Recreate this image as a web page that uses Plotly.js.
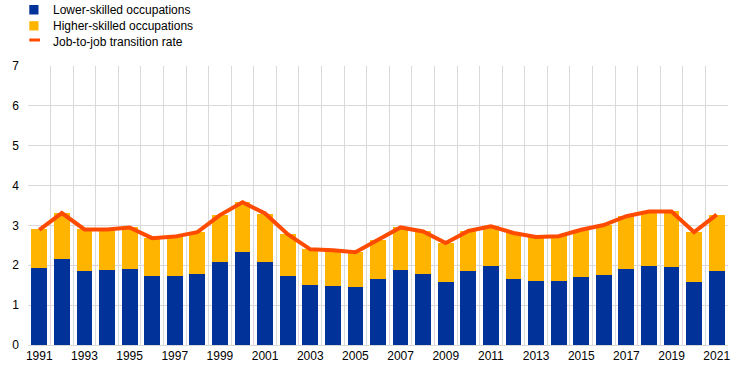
<!DOCTYPE html>
<html>
<head>
<meta charset="utf-8">
<script src="https://cdn.plot.ly/plotly-3.0.1.min.js"></script>
<style>html,body{margin:0;padding:0;background:#fff}#chart{width:744px;height:373px}</style>
</head>
<body>
<div id="chart"></div>
<script>
var years = ['1991','1992','1993','1994','1995','1996','1997','1998','1999','2000',
             '2001','2002','2003','2004','2005','2006','2007','2008','2009','2010',
             '2011','2012','2013','2014','2015','2016','2017','2018','2019','2020','2021'];
var lowerSkilled = [1.93,2.15,1.86,1.88,1.90,1.73,1.73,1.78,2.08,2.33,
                    2.08,1.73,1.50,1.48,1.45,1.65,1.88,1.78,1.58,1.85,
                    1.98,1.65,1.60,1.60,1.70,1.75,1.90,1.98,1.95,1.58,1.85];
var higherSkilled = [0.97,1.15,1.04,1.02,1.05,0.95,0.98,1.05,1.18,1.25,
                     1.21,1.05,0.90,0.90,0.88,0.98,1.07,1.07,0.98,1.01,
                     1.00,1.16,1.11,1.13,1.19,1.27,1.33,1.37,1.40,1.25,1.41];
var jobToJob = [2.89,3.31,2.90,2.90,2.95,2.68,2.72,2.83,3.26,3.58,
                3.30,2.78,2.40,2.38,2.33,2.63,2.95,2.85,2.56,2.86,
                2.98,2.81,2.71,2.73,2.89,3.01,3.23,3.35,3.35,2.83,3.27];
var tickLabels = years.map(function(y, i){ return i % 2 === 0 ? y : ''; });
var seriesNames = ['Lower-skilled occupations','Higher-skilled occupations','Job-to-job transition rate'];
var seriesColors = ['#003299','#FFB400','#FF4B00'];

var traces = [
  {type:'bar', name:seriesNames[0], x:years, y:lowerSkilled, marker:{color:seriesColors[0]}},
  {type:'bar', name:seriesNames[1], x:years, y:higherSkilled, marker:{color:seriesColors[1]}},
  {type:'scatter', mode:'lines', name:seriesNames[2], x:years, y:jobToJob,
   line:{color:seriesColors[2], width:4}}
];

// Custom legend (pixel positions converted to paper coordinates)
var W = 744, H = 373, mL = 28, mR = 16, mT = 66, mB = 28;
var pw = W - mL - mR, ph = H - mT - mB;
function px(x){ return (x - mL) / pw; }
function py(y){ return (H - mB - y) / ph; }
var legRows = [9.7, 25.7, 42];
var shapes = [
  {type:'rect', xref:'paper', yref:'paper', x0:px(29.3), x1:px(38.5), y0:py(5), y1:py(14.5),
   fillcolor:seriesColors[0], line:{width:0}},
  {type:'rect', xref:'paper', yref:'paper', x0:px(29.3), x1:px(38.5), y0:py(21.2), y1:py(30.5),
   fillcolor:seriesColors[1], line:{width:0}},
  {type:'line', xref:'paper', yref:'paper', x0:px(29.3), x1:px(40), y0:py(40), y1:py(40),
   line:{color:seriesColors[2], width:3}}
];
var annotations = seriesNames.map(function(n, i){
  return {xref:'paper', yref:'paper', x:px(50.5), y:py(legRows[i]), xanchor:'left', yanchor:'middle',
          text:n, showarrow:false, font:{size:12, color:'#000'}};
});

var layout = {
  width:W, height:H,
  margin:{l:mL, r:mR, t:mT, b:mB},
  barmode:'stack', bargap:0.3,
  paper_bgcolor:'#fff', plot_bgcolor:'#fff',
  font:{family:'Arial, Liberation Sans, sans-serif', size:12, color:'#000'},
  showlegend:false,
  shapes:shapes, annotations:annotations,
  xaxis:{type:'category', tickmode:'array', tickvals:years, ticktext:tickLabels, tickangle:0,
         tickson:'boundaries', ticks:'', showgrid:true, gridcolor:'#d9d9d9', gridwidth:1,
         showline:true, linecolor:'#d9d9d9', linewidth:1,
         tickfont:{size:12, color:'#000'}, fixedrange:true},
  yaxis:{range:[0,7], dtick:1, showgrid:true, gridcolor:'#d9d9d9', gridwidth:1,
         zeroline:false, showline:false, ticks:'', ticklabelstandoff:8,
         tickfont:{size:12, color:'#000'}, fixedrange:true}
};

Plotly.newPlot('chart', traces, layout, {displayModeBar:false, staticPlot:true});
</script>
</body>
</html>
